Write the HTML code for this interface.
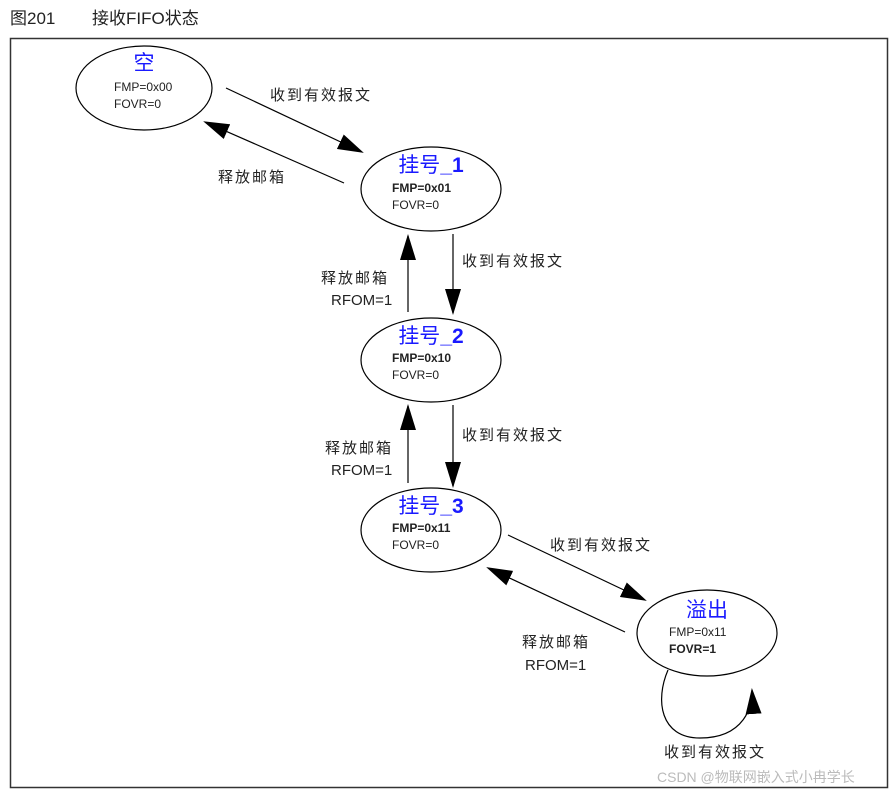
<!DOCTYPE html>
<html><head><meta charset="utf-8"><style>
html,body{margin:0;padding:0;background:#fff;}
svg{display:block;}
text{font-family:"Liberation Sans","Noto Sans CJK SC",sans-serif;}
</style></head><body>
<svg width="893" height="793" viewBox="0 0 893 793" xmlns="http://www.w3.org/2000/svg">
<defs>
<marker id="a" markerWidth="26" markerHeight="16" refX="24" refY="8" orient="auto" markerUnits="userSpaceOnUse">
<path d="M0,0 L26,8 L0,16 Z" fill="#000"/></marker>
</defs>
<text x="10" y="24" font-size="17" fill="#222">图201</text>
<text x="92" y="24" font-size="17" fill="#222">接收FIFO状态</text>
<rect x="10.5" y="38.5" width="877" height="749" fill="none" stroke="#333" stroke-width="1.5"/>
<g fill="none" stroke="#000" stroke-width="1.2">
<ellipse cx="144" cy="88" rx="68" ry="42"/>
<ellipse cx="431" cy="189" rx="70" ry="42"/>
<ellipse cx="431" cy="360" rx="70" ry="42"/>
<ellipse cx="431" cy="530" rx="70" ry="42"/>
<ellipse cx="707" cy="633" rx="70" ry="43"/>
<line x1="226" y1="88" x2="362" y2="152" marker-end="url(#a)"/>
<line x1="344" y1="183" x2="205" y2="122" marker-end="url(#a)"/>
<line x1="453" y1="234" x2="453" y2="313" marker-end="url(#a)"/>
<line x1="408" y1="312" x2="408" y2="236" marker-end="url(#a)"/>
<line x1="453" y1="405" x2="453" y2="486" marker-end="url(#a)"/>
<line x1="408" y1="483" x2="408" y2="406" marker-end="url(#a)"/>
<line x1="508" y1="535" x2="645" y2="600" marker-end="url(#a)"/>
<line x1="625" y1="632" x2="488" y2="568" marker-end="url(#a)"/>
<path d="M668,670 C655,700 660,738 700,738 C745,738 753,705 752,690" marker-end="url(#a)"/>
</g>
<g fill="#1a1aff" font-size="21" text-anchor="middle">
<text x="144" y="70">空</text>
<text x="431" y="172">挂号<tspan font-weight="bold">_1</tspan></text>
<text x="431" y="343">挂号<tspan font-weight="bold">_2</tspan></text>
<text x="431" y="513">挂号<tspan font-weight="bold">_3</tspan></text>
<text x="707" y="617">溢出</text>
</g>
<g font-size="12" fill="#222">
<text x="114" y="91">FMP=0x00</text>
<text x="114" y="108">FOVR=0</text>
<text x="392" y="192" font-weight="bold">FMP=0x01</text>
<text x="392" y="209">FOVR=0</text>
<text x="392" y="362" font-weight="bold">FMP=0x10</text>
<text x="392" y="379">FOVR=0</text>
<text x="392" y="532" font-weight="bold">FMP=0x11</text>
<text x="392" y="549">FOVR=0</text>
<text x="669" y="636">FMP=0x11</text>
<text x="669" y="653" font-weight="bold">FOVR=1</text>
</g>
<g font-size="15" fill="#222">
<text x="270" y="100" letter-spacing="2">收到有效报文</text>
<text x="218" y="182" letter-spacing="2">释放邮箱</text>
<text x="462" y="266" letter-spacing="2">收到有效报文</text>
<text x="321" y="283" letter-spacing="2">释放邮箱</text>
<text x="331" y="305">RFOM=1</text>
<text x="462" y="440" letter-spacing="2">收到有效报文</text>
<text x="325" y="453" letter-spacing="2">释放邮箱</text>
<text x="331" y="475">RFOM=1</text>
<text x="550" y="550" letter-spacing="2">收到有效报文</text>
<text x="522" y="647" letter-spacing="2">释放邮箱</text>
<text x="525" y="670">RFOM=1</text>
<text x="664" y="757" letter-spacing="2">收到有效报文</text>
</g>
<text x="657" y="782" font-size="14" fill="#bbb">CSDN @物联网嵌入式小冉学长</text>
</svg>
</body></html>
